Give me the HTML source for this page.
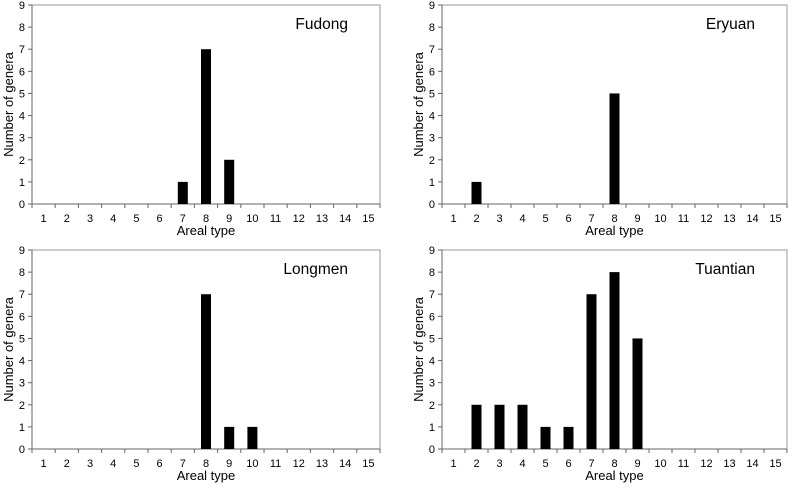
<!DOCTYPE html>
<html><head><meta charset="utf-8"><style>
body{margin:0;background:#fff;}
svg{display:block;font-family:"Liberation Sans",Arial,sans-serif;}
</style></head><body>
<svg id="c" width="789" height="485"></svg>
<script>
const categories=[1,2,3,4,5,6,7,8,9,10,11,12,13,14,15];
const yTicks=[0,1,2,3,4,5,6,7,8,9];
const panelNames=["Fudong","Eryuan","Longmen","Tuantian"];
const fudongValues=[0,0,0,0,0,0,1,7,2,0,0,0,0,0,0];
const eryuanValues=[0,1,0,0,0,0,0,5,0,0,0,0,0,0,0];
const longmenValues=[0,0,0,0,0,0,0,7,1,1,0,0,0,0,0];
const tuantianValues=[0,2,2,2,1,1,7,8,5,0,0,0,0,0,0];
const seriesList=[fudongValues,eryuanValues,longmenValues,tuantianValues];
const boxes=[{l:32,r:380,t:5,b:204},{l:442,r:787,t:5,b:204},{l:32,r:380,t:250,b:449},{l:442,r:787,t:250,b:449}];
const NS="http://www.w3.org/2000/svg";
const svg=document.getElementById('c');
function mk(tag,attrs,parent){const e=document.createElementNS(NS,tag);for(const k in attrs)e.setAttribute(k,attrs[k]);(parent||svg).appendChild(e);return e;}
boxes.forEach((bx,pi)=>{
  const g=mk('g',{});
  
  
  const n=categories.length, cw=(bx.r-bx.l)/n;
  const xc=i=>bx.l+(i+0.5)*cw;
  const y=v=>bx.b-(v/9)*(bx.b-bx.t);
  const frame=mk('rect',{x:bx.l,y:bx.t,width:bx.r-bx.l,height:bx.b-bx.t,fill:'none',stroke:'#999','stroke-width':1},g);
  
  
  const ax=mk('line',{x1:bx.l,y1:bx.b,x2:bx.r,y2:bx.b,stroke:'#666','stroke-width':1},g);
  
  
  const ay=mk('line',{x1:bx.l,y1:bx.t,x2:bx.l,y2:bx.b,stroke:'#666','stroke-width':1},g);
  
  
  yTicks.forEach(v=>{
    mk('line',{x1:bx.l-4,y1:y(v),x2:bx.l,y2:y(v),stroke:'#666'},g);
    const t=mk('text',{x:bx.l-7,y:y(v)+4,'font-size':11,'text-anchor':'end',fill:'#000'},g);
    t.textContent=v;
    
    
  });
  for(let i=0;i<=n;i++){mk('line',{x1:bx.l+i*cw,y1:bx.b,x2:bx.l+i*cw,y2:bx.b+4,stroke:'#666'},g);}
  categories.forEach((c,i)=>{
    const t=mk('text',{x:xc(i),y:bx.b+18,'font-size':11,'text-anchor':'middle',fill:'#000'},g);
    t.textContent=c;
    
    
  });
  seriesList[pi].forEach((v,i)=>{
    if(v<=0)return;
    const r=mk('rect',{x:xc(i)-5,y:y(v),width:10,height:bx.b-y(v),fill:'#000'},g);
    
    
  });
  const xt=mk('text',{x:(bx.l+bx.r)/2,y:bx.b+31,'font-size':13,'text-anchor':'middle',fill:'#000'},g);
  xt.textContent='Areal type';
  
  
  const cy=(bx.t+bx.b)/2;
  const yt=mk('text',{x:0,y:0,'font-size':13,'text-anchor':'middle',fill:'#000',transform:`translate(${bx.l-19},${cy}) rotate(-90)`},g);
  yt.textContent='Number of genera';
  
  
  const tt=mk('text',{x:bx.r-32,y:bx.t+24,'font-size':15.5,'text-anchor':'end',fill:'#000'},g);
  tt.textContent=panelNames[pi];
  
  
});
</script>
</body></html>
